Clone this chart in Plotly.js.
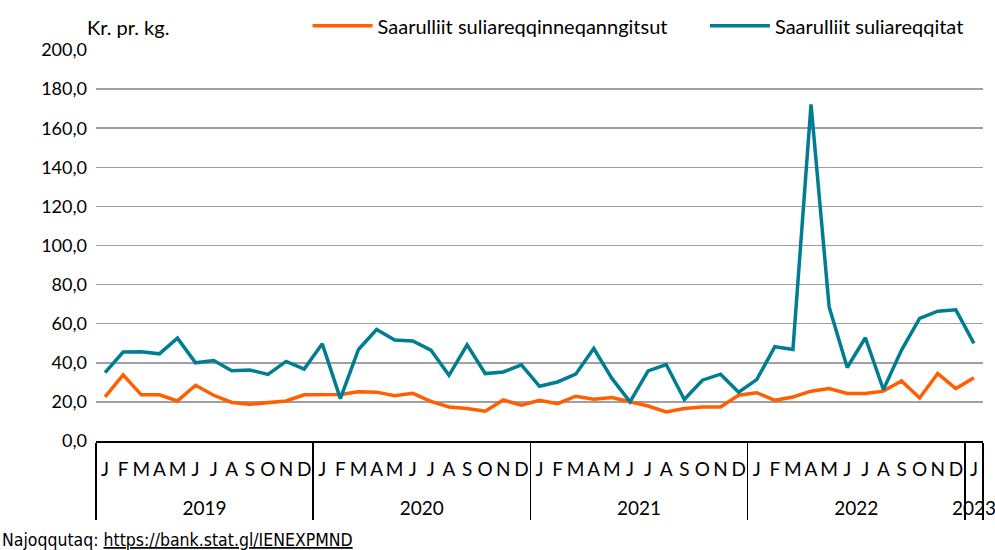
<!DOCTYPE html>
<html>
<head>
<meta charset="utf-8">
<script src="https://cdn.plot.ly/plotly-3.0.1.min.js"></script>
<style>html,body{margin:0;padding:0;background:#fff;}#chart{width:995px;height:550px;}</style>
</head>
<body>
<div id="chart"></div>
<script>
const years = ['2019','2020','2021','2022','2023'];
const monthLabels = ['J','F','M','A','M','J','J','A','S','O','N','D'];
const monthsInYear = [12,12,12,12,1];

// Saarulliit suliareqqinneqanngitsut (orange)
const notProcessed = [
  22.6, 33.8, 23.6, 23.6, 20.5, 28.5, 23.4, 19.7, 18.8, 19.7, 20.5, 23.6,
  23.6, 23.8, 25.2, 25.0, 23.2, 24.4, 20.3, 17.4, 16.6, 15.2, 21.0, 18.3,
  20.8, 19.1, 22.9, 21.4, 22.2, 20.0, 17.9, 14.9, 16.6, 17.4, 17.4, 23.4,
  24.7, 20.8, 22.5, 25.5, 26.8, 24.3, 24.3, 25.5, 30.7, 22.0, 34.5, 26.8,
  32.3
];
// Saarulliit suliareqqitat (teal)
const processed = [
  35.0, 45.5, 45.6, 44.6, 52.6, 40.0, 41.2, 35.9, 36.3, 34.1, 40.7, 36.8,
  49.7, 21.7, 46.8, 57.0, 51.6, 51.2, 46.5, 33.6, 49.2, 34.5, 35.3, 39.0,
  28.0, 30.2, 34.2, 47.3, 32.0, 20.0, 35.9, 39.1, 21.2, 31.1, 34.2, 25.0,
  31.4, 48.2, 46.8, 172.2, 68.6, 37.6, 52.8, 26.3, 46.5, 62.7, 66.4, 67.1,
  49.9
];

const xYears = [], xMonths = [];
years.forEach((y, i) => {
  for (let m = 0; m < monthsInYear[i]; m++) {
    xYears.push(y);
    // zero-width spaces keep repeated letters distinct; extra line pushes year labels down
    xMonths.push(monthLabels[m] + '\u200b'.repeat(m) + '<br>\u00a0');
  }
});

const mainFont = 'Lato, "Open Sans", sans-serif';
const srcFont = '"Liberation Sans Narrow", "DejaVu Sans Condensed", "Liberation Sans", Arial, sans-serif';

const traces = [
  {
    x: [xYears, xMonths], y: notProcessed, type: 'scatter', mode: 'lines',
    name: 'Saarulliit suliareqqinneqanngitsut', legend: 'legend',
    line: {color: '#ff5f00', width: 3.5}
  },
  {
    x: [xYears, xMonths], y: processed, type: 'scatter', mode: 'lines',
    name: 'Saarulliit suliareqqitat', legend: 'legend2',
    line: {color: '#007d92', width: 3.5}
  }
];

const legendCommon = {
  orientation: 'h', yref: 'container', yanchor: 'middle', y: 0.953, xanchor: 'left',
  font: {family: mainFont, size: 20, color: '#000'},
  itemwidth: 60, bgcolor: 'rgba(0,0,0,0)'
};

const layout = {
  width: 995, height: 550,
  margin: {l: 96, r: 12, t: 50, b: 109},
  paper_bgcolor: '#fff', plot_bgcolor: '#fff',
  separators: ',.',
  showlegend: true,
  legend: Object.assign({}, legendCommon, {x: 0.2385}),
  legend2: Object.assign({}, legendCommon, {x: 0.6865}),
  xaxis: {
    type: 'multicategory',
    tickmode: 'linear', tick0: 0, dtick: 1,
    tickangle: 0,
    showgrid: false,
    showline: true, linecolor: '#000', linewidth: 1.5,
    ticks: '', showdividers: true, dividercolor: '#000', dividerwidth: 1.5,
    ticklabelstandoff: 11,
    tickfont: {family: mainFont, size: 19, color: '#000'},
    range: [-0.5, 48.5]
  },
  yaxis: {
    range: [0, 200], dtick: 20, tickformat: '.1f',
    showgrid: true, gridcolor: '#a0a0a0', gridwidth: 1.5,
    zeroline: false, showline: false, ticks: '',
    ticklabelstandoff: 8,
    tickfont: {family: mainFont, size: 18, color: '#000'}
  },
  annotations: [
    {text: 'Kr. pr. kg.', xref: 'paper', yref: 'paper', x: -0.0125, y: 1.059, xanchor: 'left', yanchor: 'middle',
     showarrow: false, font: {family: mainFont, size: 20, color: '#000'}},
    {text: 'Najoqqutaq: <span style="text-decoration:underline">https://bank.stat.gl/IENEXPMND</span>',
     xref: 'paper', yref: 'paper', x: -0.108, y: -0.254, xanchor: 'left', yanchor: 'middle',
     showarrow: false, font: {family: srcFont, size: 17.5, color: '#000'}}
  ]
};

Plotly.newPlot('chart', traces, layout, {displayModeBar: false, staticPlot: true});
</script>
</body>
</html>
